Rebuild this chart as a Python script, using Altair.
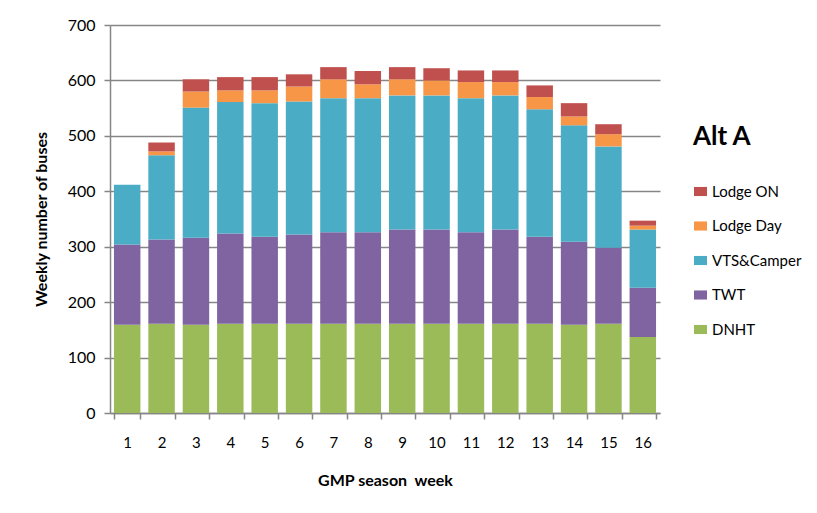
import altair as alt
import pandas as pd

weeks = list(range(1, 17))
series_stack = ["DNHT", "TWT", "VTS&Camper", "Lodge Day", "Lodge ON"]
legend_order = ["Lodge ON", "Lodge Day", "VTS&Camper", "TWT", "DNHT"]
colors = ["#C0504D", "#F79646", "#4BACC6", "#8064A2", "#9BBB59"]

dnht = [159, 161, 159, 161, 161, 161, 161, 161, 161, 161, 161, 161, 161, 159, 161, 137]
twt = [145, 152, 157, 163, 157, 161, 165, 165, 170, 170, 165, 170, 157, 150, 137, 89]
vts = [108, 152, 235, 237, 241, 240, 242, 242, 242, 242, 242, 242, 230, 210, 183, 105]
lodge_day = [0, 7, 29, 21, 23, 27, 34, 25, 29, 27, 29, 24, 22, 16, 22, 7]
lodge_on = [0, 16, 22, 24, 24, 22, 22, 24, 22, 22, 21, 21, 21, 24, 18, 9]

values = {"DNHT": dnht, "TWT": twt, "VTS&Camper": vts, "Lodge Day": lodge_day, "Lodge ON": lodge_on}
rows = []
for si, s in enumerate(series_stack):
    for w, v in zip(weeks, values[s]):
        rows.append({"week": w, "series": s, "value": v, "stack_idx": si})
df = pd.DataFrame(rows)

FONT = "Lato"
GRID = "#868686"

chart = alt.Chart(df).mark_bar().encode(
    x=alt.X("week:O",
            scale=alt.Scale(paddingInner=0.23, paddingOuter=0.115),
            axis=alt.Axis(title="GMP season\u00a0 week", labelAngle=0, tickBand="extent",
                          tickSize=6, labelPadding=16, titlePadding=22,
                          labelFontSize=15, titleFontSize=16)),
    y=alt.Y("value:Q", stack="zero",
            scale=alt.Scale(domain=[0, 700], nice=False),
            axis=alt.Axis(title="Weekly number of buses", values=[0, 100, 200, 300, 400, 500, 600, 700],
                          tickSize=6, labelPadding=9, titlePadding=18,
                          labelFontSize=16, titleFontSize=16)),
    color=alt.Color("series:N",
                    scale=alt.Scale(domain=legend_order, range=colors),
                    legend=alt.Legend(title="Alt A", orient="none", legendX=583, legendY=99,
                                      titleFontSize=26, titleFont=FONT, titleFontWeight="bold",
                                      titleColor="#000000", titlePadding=34,
                                      labelFontSize=15, labelFont=FONT, labelColor="#000000",
                                      symbolType="M-1,-0.7H1V0.7H-1Z", symbolSize=169,
                                      symbolStrokeWidth=0, labelOffset=4, rowPadding=18.5,
                                      padding=0)),
    order=alt.Order("stack_idx:Q", sort="ascending"),
).properties(
    width=550, height=388,
    autosize=alt.AutoSizeParams(type="none"),
    padding={"left": 102, "top": 17, "right": 149, "bottom": 92},
).configure_view(
    stroke=None
).configure_axis(
    labelFont=FONT, titleFont=FONT, labelColor="#000000", titleColor="#000000",
    titleFontWeight="bold", domainColor=GRID, tickColor=GRID, gridColor=GRID,
    domainWidth=1.5, tickWidth=1.5, gridWidth=1.5, gridOpacity=1,
).configure_axisX(
    grid=False
)

chart.save("out.html", embed_options={"renderer": "svg", "actions": False})
